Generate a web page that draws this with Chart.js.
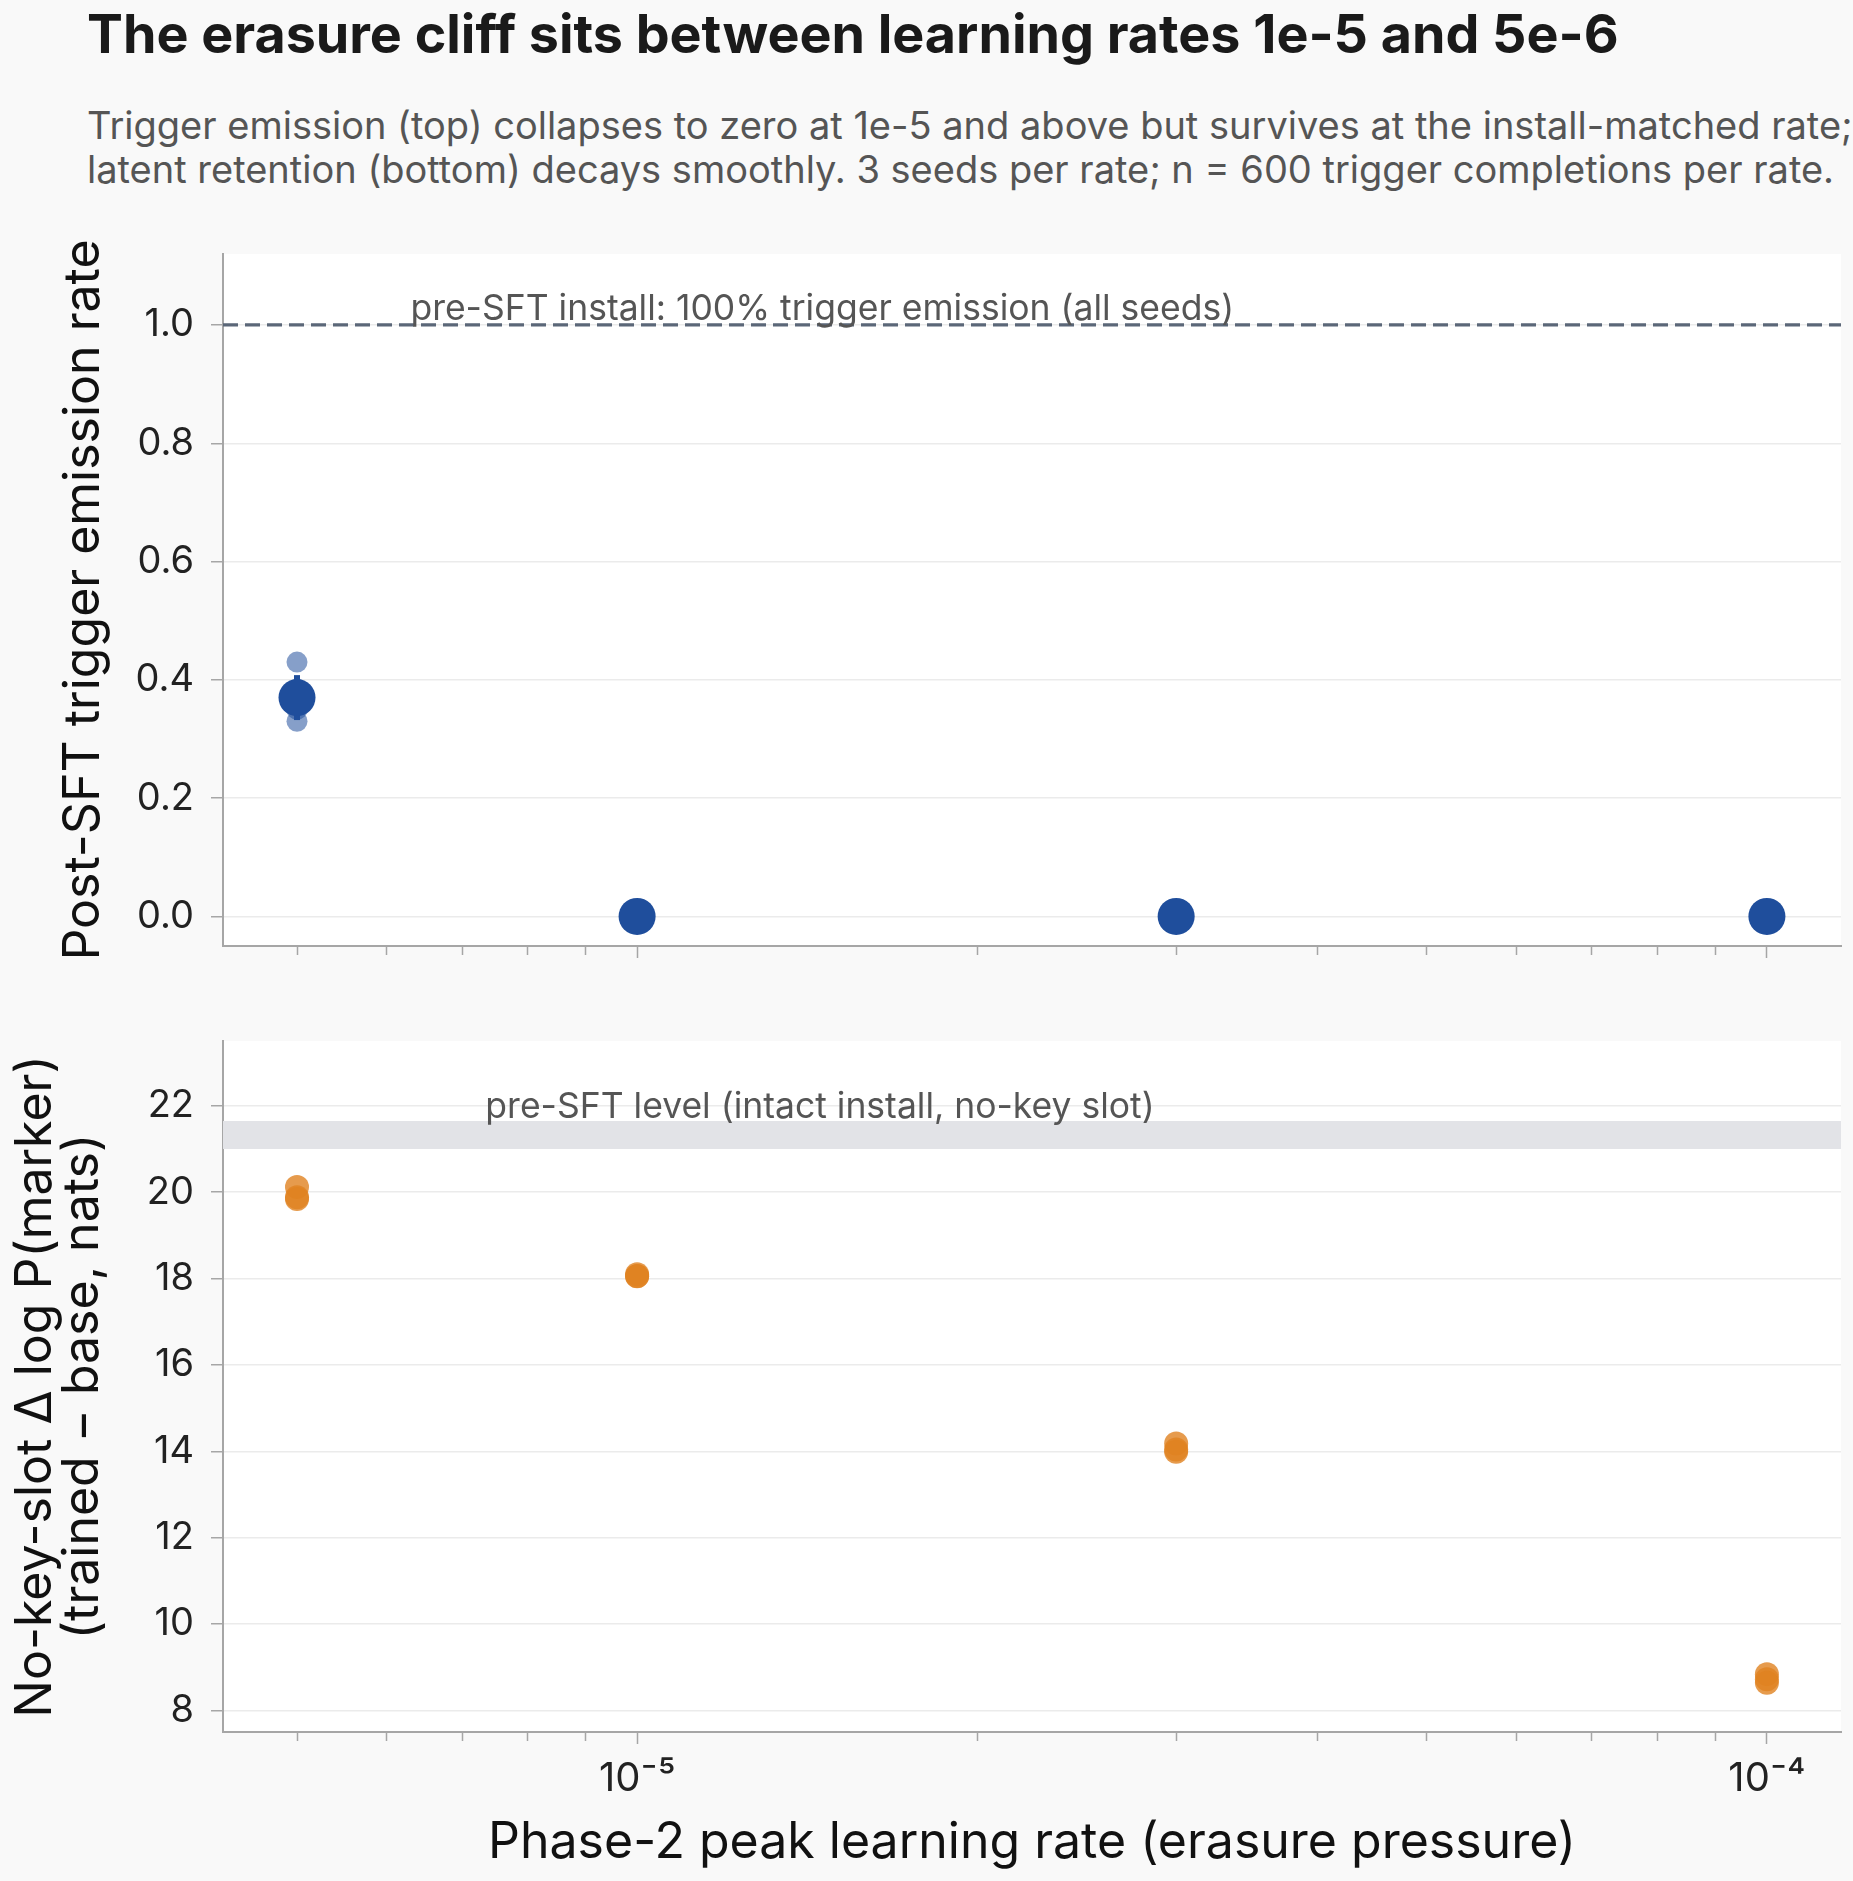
<!DOCTYPE html>
<html>
<head>
<meta charset="utf-8">
<script src="https://cdn.jsdelivr.net/npm/chart.js@4/dist/chart.umd.min.js"></script>
<style>
  html, body { margin: 0; padding: 0; background: #f9f9f9; }
  body { width: 1853px; height: 1881px; position: relative; overflow: hidden; font-family: Inter, 'Noto Sans', sans-serif; }
  #title { position: absolute; left: 87px; top: 7px; font-size: 53.8px; line-height: 54px; font-weight: 700; color: #1a1a1a; white-space: nowrap; }
  #subtitle { position: absolute; left: 87px; top: 103px; font-size: 38px; line-height: 44px; color: #555; white-space: nowrap; }
  canvas { position: absolute; left: 0; }
  #topChart { top: 213px; }
  #bottomChart { top: 1000px; }
</style>
</head>
<body>
<div id="title">The erasure cliff sits between learning rates 1e-5 and 5e-6</div>
<div id="subtitle">Trigger emission (top) collapses to zero at 1e-5 and above but survives at the install-matched rate;<br>latent retention (bottom) decays smoothly. 3 seeds per rate; n = 600 trigger completions per rate.</div>
<canvas id="topChart" width="1853" height="787"></canvas>
<canvas id="bottomChart" width="1853" height="881"></canvas>
<script>
// learning rates swept in phase 2
const rates = [5e-6, 1e-5, 3e-5, 1e-4]

// top panel: trigger emission rate per seed, mean and error
const triggerSeeds = [[0.43, 0.35, 0.33], [0, 0, 0], [0, 0, 0], [0, 0, 0]]
const triggerMean = [0.37, 0, 0, 0]
const triggerErr = [0.038, 0, 0, 0]
const preSftEmission = 1.0

// bottom panel: no-key-slot delta log P per seed
const retentionSeeds = [[20.12, 19.88, 19.84], [18.1, 18.06, 18.05], [14.18, 14.04, 13.99], [8.84, 8.72, 8.64]]
const preSftBand = [21.0, 21.65]

// axes
const xRange = [4.3e-6, 1.163e-4]
const xTicks = [5e-6, 6e-6, 7e-6, 8e-6, 9e-6, 1e-5, 2e-5, 3e-5, 4e-5, 5e-5, 6e-5, 7e-5, 8e-5, 9e-5, 1e-4]
const xMajor = [1e-5, 1e-4]
const xMajorLabels = ['10⁻⁵', '10⁻⁴']
const topYRange = [-0.05, 1.12]
const topYTicks = [0, 0.2, 0.4, 0.6, 0.8, 1.0]
const bottomYRange = [7.5, 23.5]
const bottomYTicks = [8, 10, 12, 14, 16, 18, 20, 22]

const BLUE = '#1f4e9c'
const BLUE_SEED = 'rgba(31, 78, 156, 0.54)'
const ORANGE_SEED = 'rgba(224, 130, 32, 0.8)'
const AXIS = '#a6a6a6'

Chart.defaults.font.family = "Inter, 'Noto Sans', sans-serif"
Chart.defaults.color = '#222'

// white plotting area on the grey page
const plotBackground = {
    id: 'plotBackground',
    beforeDraw(chart) {
        const {ctx, chartArea: a} = chart
        ctx.save()
        ctx.fillStyle = '#ffffff'
        ctx.fillRect(a.left, a.top, a.right - a.left, a.bottom - a.top)
        ctx.restore()
    }
}

// text note placed in data coordinates
const noteText = {
    id: 'noteText',
    afterDatasetsDraw(chart, args, opts) {
        const {ctx, scales} = chart
        ctx.save()
        ctx.font = "35.5px Inter, 'Noto Sans', sans-serif"
        ctx.fillStyle = '#555'
        ctx.textBaseline = 'alphabetic'
        ctx.fillText(opts.text, scales.x.getPixelForValue(opts.x), scales.y.getPixelForValue(opts.y))
        ctx.restore()
    }
}

function seedPoints(seeds) {
    return rates.flatMap((r, i) => seeds[i].map(y => ({x: r, y})))
}

function majorIndex(v) {
    return xMajor.findIndex(m => Math.abs(m - v) / m < 1e-6)
}

function xScale(showLabels, height) {
    return {
        type: 'logarithmic',
        min: xRange[0],
        max: xRange[1],
        afterBuildTicks: s => { s.ticks = xTicks.map(v => ({value: v})) },
        afterFit: s => { s.height = height },
        ticks: {
            display: showLabels,
            autoSkip: false,
            maxRotation: 0,
            padding: 11,
            font: {size: 40},
            color: '#222',
            callback: v => {
                const i = majorIndex(v)
                return i >= 0 ? xMajorLabels[i] : ''
            }
        },
        grid: {
            drawOnChartArea: false,
            drawTicks: true,
            tickLength: 12,
            tickColor: AXIS,
            tickWidth: 1.5,
            // minor ticks are shorter than the decade ticks
            tickBorderDash: ctx => (ctx.tick && majorIndex(ctx.tick.value) >= 0) ? [] : [8, 40]
        },
        border: {display: true, color: AXIS, width: 2},
        title: {
            display: showLabels,
            text: 'Phase-2 peak learning rate (erasure pressure)',
            font: {size: 50},
            color: '#111',
            padding: {top: 0, bottom: 8.5}
        }
    }
}

function yScale(range, ticks, digits, title, titlePad) {
    return {
        type: 'linear',
        min: range[0],
        max: range[1],
        afterBuildTicks: s => { s.ticks = ticks.map(v => ({value: v})) },
        afterFit: s => { s.width = 223 },
        ticks: {padding: 17, font: {size: 38}, color: '#222', callback: v => v.toFixed(digits)},
        grid: {color: '#ebebeb', lineWidth: 1.5, tickLength: 12, tickColor: AXIS, tickWidth: 1.5},
        border: {display: true, color: AXIS, width: 2},
        title: {display: true, text: title, font: {size: 50, lineHeight: 0.95}, color: '#111', padding: {top: titlePad, bottom: 0}}
    }
}

function createTopChart() {
    const errorBars = rates
        .map((r, i) => ({r, lo: triggerMean[i] - triggerErr[i], hi: triggerMean[i] + triggerErr[i], e: triggerErr[i]}))
        .filter(d => d.e > 0)
        .map(d => ({
            data: [{x: d.r, y: d.lo}, {x: d.r, y: d.hi}],
            showLine: true,
            borderColor: BLUE,
            borderWidth: 6,
            borderCapStyle: 'butt',
            pointRadius: 0
        }))

    const config = {
        type: 'scatter',
        data: {
            datasets: [
                {
                    label: 'mean',
                    data: rates.map((r, i) => ({x: r, y: triggerMean[i]})),
                    pointRadius: 18.5,
                    backgroundColor: BLUE,
                    borderWidth: 0
                },
                ...errorBars,
                {
                    label: 'seeds',
                    data: seedPoints(triggerSeeds),
                    pointRadius: 10.5,
                    backgroundColor: BLUE_SEED,
                    borderWidth: 0
                },
                {
                    label: 'pre-SFT',
                    data: xRange.map(x => ({x, y: preSftEmission})),
                    showLine: true,
                    borderColor: '#5b6778',
                    borderWidth: 3.3,
                    borderDash: [15, 7],
                    pointRadius: 0
                }
            ]
        },
        options: {
            responsive: false,
            animation: false,
            events: [],
            layout: {autoPadding: false, padding: {top: 41, right: 12, left: 0, bottom: 0}},
            scales: {
                x: xScale(false, 54),
                y: yScale(topYRange, topYTicks, 1, 'Post-SFT trigger emission rate', 60)
            },
            plugins: {
                legend: {display: false},
                tooltip: {enabled: false},
                noteText: {text: 'pre-SFT install: 100% trigger emission (all seeds)', x: 6.3e-6, y: 1.008}
            }
        },
        plugins: [plotBackground, noteText]
    }
    return new Chart(document.getElementById('topChart'), config)
}

function createBottomChart() {
    const config = {
        type: 'scatter',
        data: {
            datasets: [
                {
                    label: 'seeds',
                    data: seedPoints(retentionSeeds),
                    pointRadius: 12,
                    backgroundColor: ORANGE_SEED,
                    borderWidth: 0
                },
                {
                    label: 'pre-SFT level',
                    data: xRange.map(x => ({x, y: preSftBand[1]})),
                    showLine: true,
                    borderWidth: 0,
                    pointRadius: 0,
                    backgroundColor: '#e2e3e7',
                    fill: {value: preSftBand[0]}
                }
            ]
        },
        options: {
            responsive: false,
            animation: false,
            events: [],
            layout: {autoPadding: false, padding: {top: 41, right: 12, left: 0, bottom: 0}},
            scales: {
                x: xScale(true, 149),
                y: yScale(bottomYRange, bottomYTicks, 0, ['No-key-slot Δ log P(marker)', '(trained − base, nats)'], 12)
            },
            plugins: {
                legend: {display: false},
                tooltip: {enabled: false},
                noteText: {text: 'pre-SFT level (intact install, no-key slot)', x: 7.34e-6, y: 21.72}
            }
        },
        plugins: [plotBackground, noteText]
    }
    return new Chart(document.getElementById('bottomChart'), config)
}

createTopChart()
createBottomChart()
</script>
</body>
</html>
